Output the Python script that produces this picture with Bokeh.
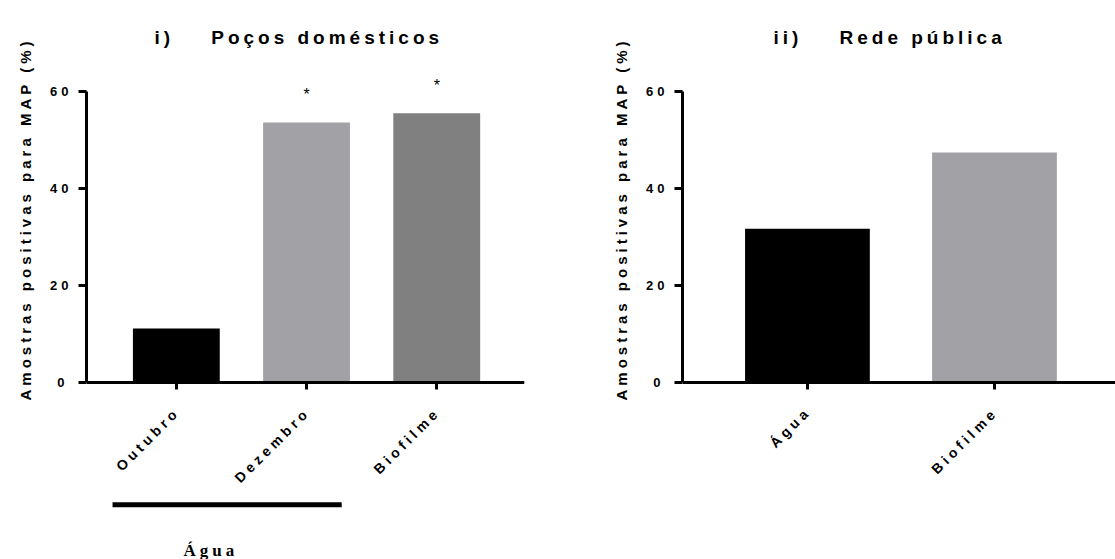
import math
from bokeh.plotting import figure
from bokeh.layouts import row
from bokeh.models import (FixedTicker, Range1d, ColumnDataSource, InlineStyleSheet,
                          LinearAxis, Title)
from bokeh.core.properties import value
from bokeh.embed import file_html
from bokeh.resources import INLINE

# ---- data ----
left_title = "i)\u00a0\u00a0\u00a0\u00a0Poços domésticos"
left_categories = ["Outubro", "Dezembro", "Biofilme"]
left_values = [11.1, 53.6, 55.5]
left_colors = ["#000000", "#A2A1A6", "#808080"]
left_marks = ["", "*", "*"]

right_title = "ii)\u00a0\u00a0\u00a0\u00a0Rede pública"
right_categories = ["Água", "Biofilme"]
right_values = [31.7, 47.4]
right_colors = ["#000000", "#A2A1A6"]
right_marks = ["", ""]

y_ticks = [0, 20, 40, 60]
y_label = "Amostras positivas para MAP (%)"

group_label = "Água"
group_members = ["Outubro", "Dezembro"]

FONT = "Liberation Sans"
LS = 4.0  # letter spacing, px
SPACING = InlineStyleSheet(css=":host { letter-spacing: %gpx; }" % LS)
H = 559
Y_RANGE = (-36.5, 63.9)


def panel(title, cats, vals, cols, marks, x_range, width, border_left, border_right,
          title_offset):
    xs = list(range(1, len(cats) + 1))
    src = ColumnDataSource(dict(x=xs, top=vals, color=cols, mark=marks,
                                mark_y=[v + 5.8 for v in vals]))
    p = figure(width=width, height=H, title=title,
               x_range=Range1d(*x_range), y_range=Range1d(*Y_RANGE),
               output_backend="svg", toolbar_location=None,
               min_border_left=border_left, min_border_right=border_right,
               min_border_top=72, min_border_bottom=0)
    p.stylesheets = [SPACING]
    p.outline_line_color = None
    p.xgrid.visible = False
    p.ygrid.visible = False

    p.vbar(x="x", top="top", bottom=0, width=0.667, fill_color="color",
           line_color=None, source=src)
    p.text(x="x", y="mark_y", text="mark", text_align="center", text_baseline="middle",
           text_font=value(FONT), text_font_size="16px", text_color="black", source=src)

    p.title.align = "left"
    p.title.vertical_align = "top"
    p.title.offset = title_offset
    p.title.text_font = FONT
    p.title.text_font_size = "19px"
    p.title.text_font_style = "bold"
    p.title.text_color = "black"
    p.title.standoff = 46

    ya = p.yaxis[0]
    ya.bounds = (0, 60)
    ya.ticker = FixedTicker(ticks=y_ticks)
    ya.axis_line_width = 3
    ya.major_tick_line_width = 3
    ya.major_tick_out = 8
    ya.major_tick_in = 0
    ya.minor_tick_line_color = None
    ya.major_label_text_font = FONT
    ya.major_label_text_font_size = "13px"
    ya.major_label_text_font_style = "bold"
    ya.major_label_text_color = "black"
    ya.major_label_standoff = 14

    # y axis title, set as a side title so that it starts at the reference's spot
    p.add_layout(Title(text=y_label, align="left", offset=H - 400, text_font=FONT,
                       text_font_size="15px", text_font_style="bold", text_color="black",
                       standoff=28), "left")

    xa = p.xaxis[0]
    xa.fixed_location = 0
    xa.ticker = FixedTicker(ticks=xs)
    xa.axis_line_width = 3
    xa.major_tick_line_width = 3
    xa.major_tick_out = 7
    xa.major_tick_in = 0
    xa.minor_tick_line_color = None
    xa.major_label_text_color = None

    # category labels, rotated; each shifted so the spaced text ends under its tick
    px_per_unit = (width - border_left - border_right) / (x_range[1] - x_range[0])
    for x, c in zip(xs, cats):
        d = (len(c) - 1) * LS * 0.707
        t = x - (d + 2) / px_per_unit
        la = LinearAxis(fixed_location=0, ticker=FixedTicker(ticks=[t]),
                        major_label_overrides={t: c},
                        major_label_orientation=math.pi / 4,
                        axis_line_color=None, major_tick_line_color=None,
                        minor_tick_line_color=None, major_tick_out=0, major_tick_in=0,
                        major_label_standoff=round(30 + d), major_label_text_font=FONT,
                        major_label_text_font_size="14px",
                        major_label_text_font_style="bold",
                        major_label_text_color="black")
        p.add_layout(la, "below")
    return p, xs


left, lxs = panel(left_title, left_categories, left_values, left_colors, left_marks,
                  (0.310, 3.674), 560, 85, 36, 68)
right, rxs = panel(right_title, right_categories, right_values, right_colors, right_marks,
                   (0.332, 2.647), 555, 122, 0, 91)

# group bracket under "Água" members
pos = {c: x for c, x in zip(left_categories, lxs)}
gx0 = min(pos[c] for c in group_members) - 0.49
gx1 = max(pos[c] for c in group_members) + 0.27
left.segment(x0=[gx0], y0=[-25.2], x1=[gx1], y1=[-25.2], line_width=5, line_color="black")
left.text(x=[gx0 + 0.545], y=[-34.6], text=[group_label], text_align="left",
          text_baseline="alphabetic", text_font=value("Liberation Serif"),
          text_font_size="17px", text_font_style="bold", text_color="black")

layout = row(left, right)
open("out.html", "w").write(file_html(layout, INLINE))
